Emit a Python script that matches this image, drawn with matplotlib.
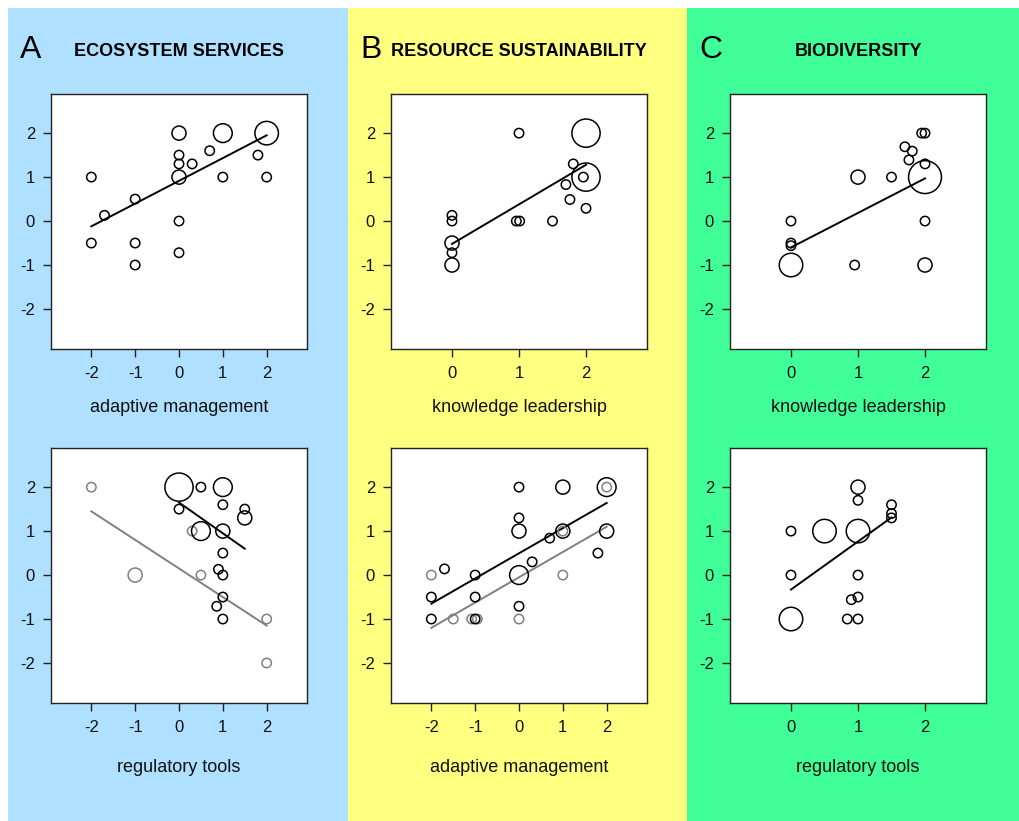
import matplotlib
matplotlib.use("Agg")
import matplotlib.pyplot as plt
from matplotlib.patches import Rectangle
import numpy as np

plt.rcParams['font.family'] = ['Liberation Sans', 'DejaVu Sans']
plt.rcParams['axes.unicode_minus'] = False

# ---------------- data ----------------
# Panel A top: ecosystem services vs adaptive management
a1_x = [-2, -1.7, -1, -2, -1, -1, 0, 0, 0, 0, 0.3, 0.7, 1, 1, 2, 1.8, 2, 0, 0]
a1_y = [1, 0.13, 0.5, -0.5, -0.5, -1, 2, 1.5, 1.3, 1, 1.3, 1.6, 2, 1, 2, 1.5, 1, 0, -0.72]
a1_n = [1, 1, 1, 1, 1, 1, 2, 1, 1, 2, 1, 1, 3, 1, 4, 1, 1, 1, 1]
a1_fit_x = [-2, 2]
a1_fit_y = [-0.12, 1.95]

# Panel B top: resource sustainability vs knowledge leadership
b1_x = [1, 2, 1.81, 2, 1.96, 1.7, 1.76, 2, 0, 0, 0.96, 1.01, 1.5, 0, 0, 0]
b1_y = [2, 2, 1.3, 1, 1, 0.83, 0.49, 0.29, 0.13, 0, 0, 0, 0, -0.5, -0.72, -1]
b1_n = [1, 5, 1, 5, 1, 1, 1, 1, 1, 1, 1, 1, 1, 2, 1, 2]
b1_fit_x = [0, 2]
b1_fit_y = [-0.52, 1.28]

# Panel C top: biodiversity vs knowledge leadership
c1_x = [1.95, 2, 1.7, 1.81, 1.76, 2, 2, 1, 1.5, 0, 0, 0, 0, 0.95, 2, 2]
c1_y = [2, 2, 1.69, 1.59, 1.39, 1.3, 1, 1, 1, 0, -0.5, -0.56, -1, -1, 0, -1]
c1_n = [1, 1, 1, 1, 1, 1, 6, 2, 1, 1, 1, 1, 4, 1, 1, 2]
c1_fit_x = [0, 2]
c1_fit_y = [-0.6, 0.97]

# Panel A bottom: ecosystem services vs regulatory tools (black and grey groups)
a2_x = [0, 0.5, 1, 1, 0, 1.5, 1.5, 0.5, 1, 1, 0.9, 1, 1, 0.86, 1]
a2_y = [2, 2, 2, 1.6, 1.5, 1.5, 1.3, 1, 1, 0.5, 0.13, 0, -0.5, -0.71, -1]
a2_n = [5, 1, 3, 1, 1, 1, 2, 3, 2, 1, 1, 1, 1, 1, 1]
a2_fit_x = [0, 1.5]
a2_fit_y = [1.65, 0.6]
a2g_x = [-2, -1, 0.3, 0.5, 2, 2]
a2g_y = [2, 0, 1, 0, -1, -2]
a2g_n = [1, 2, 1, 1, 1, 1]
a2g_fit_x = [-2, 2]
a2g_fit_y = [1.45, -1.15]

# Panel B bottom: resource sustainability vs adaptive management
b2_x = [0, 1, 2, 0, 0, 1, 0.7, 2, 1.8, 0.3, -1.7, -1, 0, -2, -1, 0, -2, -1]
b2_y = [2, 2, 2, 1.3, 1, 1, 0.84, 1, 0.5, 0.3, 0.14, 0, 0, -0.5, -0.5, -0.71, -1, -1]
b2_n = [1, 2, 3, 1, 2, 2, 1, 2, 1, 1, 1, 1, 3, 1, 1, 1, 1, 1]
b2_fit_x = [-2, 2]
b2_fit_y = [-0.65, 1.64]
b2g_x = [2, 1, -2, 1, -1.5, -1.08, -0.95, 0]
b2g_y = [2, 1, 0, 0, -1, -1, -1, -1]
b2g_n = [1, 1, 1, 1, 1, 1, 1, 1]
b2g_fit_x = [-2, 2]
b2g_fit_y = [-1.2, 1.1]

# Panel C bottom: biodiversity vs regulatory tools
c2_x = [1, 1, 1.5, 1.5, 1.5, 0, 0.5, 1, 0, 1, 1, 0.9, 0.84, 1, 0]
c2_y = [2, 1.7, 1.6, 1.4, 1.3, 1, 1, 1, 0, 0, -0.5, -0.56, -1, -1, -1]
c2_n = [2, 1, 1, 1, 1, 1, 4, 4, 1, 1, 1, 1, 1, 1, 4]
c2_fit_x = [0, 1.5]
c2_fit_y = [-0.33, 1.31]

letters = ["A", "B", "C"]
titles = ["ECOSYSTEM SERVICES", "RESOURCE SUSTAINABILITY", "BIODIVERSITY"]
top_xlabels = ["adaptive management", "knowledge leadership", "knowledge leadership"]
bottom_xlabels = ["regulatory tools", "adaptive management", "regulatory tools"]
panel_colors = ["#B0E0FF", "#FFFF80", "#40FF99"]
wide_ticks = [-2, -1, 0, 1, 2]
narrow_ticks = [0, 1, 2]
y_ticks = [-2, -1, 0, 1, 2]

# ---------------- layout ----------------
W, H = 1019, 821
fig = plt.figure(figsize=(W / 100, H / 100), dpi=100)
fig.patch.set_facecolor("white")

bg_edges = [8, 348, 687, 1019]
for i in range(3):
    fig.patches.append(Rectangle((bg_edges[i] / W, 0), (bg_edges[i + 1] - bg_edges[i]) / W,
                                 (H - 8) / H, transform=fig.transFigure,
                                 facecolor=panel_colors[i], edgecolor="none", zorder=-5))

ax_lefts = [51, 391, 730]
ax_w = 256
row_tops = [94, 448]
ax_h = 255
row_labelpads = [13, 17]


def make_ax(col, row):
    l = ax_lefts[col]
    t = row_tops[row]
    return fig.add_axes([l / W, (H - t - ax_h) / H, ax_w / W, ax_h / H])


def sizes(n):
    r = 4.7 * (1 + 0.5 * (np.asarray(n) - 1))  # radius in px
    d_pt = 2 * r * 0.72
    return d_pt ** 2


def style(ax, xticks, xlabel, row):
    if len(xticks) == 5:
        ax.set_xlim(-2.92, 2.92)
    else:
        ax.set_xlim(-0.91, 2.91)
    ax.set_ylim(-2.91, 2.89)
    ax.set_xticks(xticks)
    ax.set_yticks(y_ticks)
    ax.set_xticklabels([str(v) for v in xticks])
    ax.set_yticklabels([str(v) for v in y_ticks])
    ax.tick_params(direction="out", length=5.5, width=1, labelsize=12, pad=7, color="#222222",
                   labelcolor="#111111")
    ax.tick_params(axis="y", pad=6)
    for s in ax.spines.values():
        s.set_linewidth(1.0)
        s.set_color("#222222")
    ax.set_facecolor("white")
    ax.set_xlabel(xlabel, fontsize=13, labelpad=row_labelpads[row], color="#111111")


def pts(ax, x, y, n, color="black"):
    ax.scatter(x, y, s=sizes(n), facecolors="none", edgecolors=color, linewidths=1.1, zorder=3)


def fit(ax, fx, fy, color="black"):
    ax.plot(fx, fy, color=color, linewidth=1.4, zorder=2)


grey = "#808080"

ax = make_ax(0, 0)
pts(ax, a1_x, a1_y, a1_n); fit(ax, a1_fit_x, a1_fit_y)
style(ax, wide_ticks, top_xlabels[0], 0)

ax = make_ax(1, 0)
pts(ax, b1_x, b1_y, b1_n); fit(ax, b1_fit_x, b1_fit_y)
style(ax, narrow_ticks, top_xlabels[1], 0)

ax = make_ax(2, 0)
pts(ax, c1_x, c1_y, c1_n); fit(ax, c1_fit_x, c1_fit_y)
style(ax, narrow_ticks, top_xlabels[2], 0)

ax = make_ax(0, 1)
pts(ax, a2g_x, a2g_y, a2g_n, grey); fit(ax, a2g_fit_x, a2g_fit_y, grey)
pts(ax, a2_x, a2_y, a2_n); fit(ax, a2_fit_x, a2_fit_y)
style(ax, wide_ticks, bottom_xlabels[0], 1)

ax = make_ax(1, 1)
pts(ax, b2g_x, b2g_y, b2g_n, grey); fit(ax, b2g_fit_x, b2g_fit_y, grey)
pts(ax, b2_x, b2_y, b2_n); fit(ax, b2_fit_x, b2_fit_y)
style(ax, wide_ticks, bottom_xlabels[1], 1)

ax = make_ax(2, 1)
pts(ax, c2_x, c2_y, c2_n); fit(ax, c2_fit_x, c2_fit_y)
style(ax, narrow_ticks, bottom_xlabels[2], 1)

# panel letters and titles
for i in range(3):
    fig.text((bg_edges[i] + 12) / W, 1 - 50 / H, letters[i], fontsize=23,
             ha="left", va="center")
    fig.text((ax_lefts[i] + ax_w / 2) / W, 1 - 52 / H, titles[i], fontsize=13,
             fontweight="bold", ha="center", va="center")

fig.savefig("out.png", dpi=100)
